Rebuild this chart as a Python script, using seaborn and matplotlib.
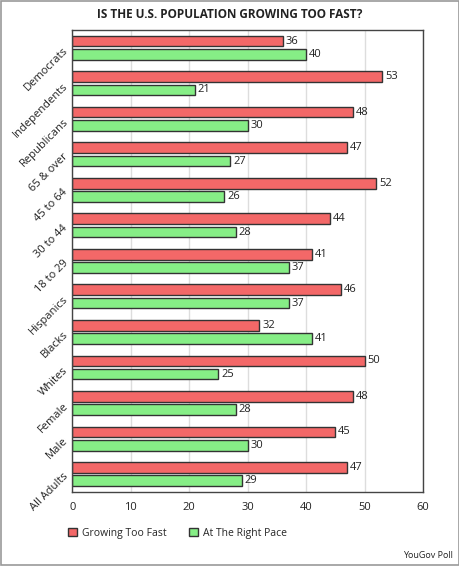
import pandas as pd
import seaborn as sns
import matplotlib.pyplot as plt
from matplotlib.patches import Rectangle

# %% Data
groups = ["Democrats", "Independents", "Republicans", "65 & over", "45 to 64",
          "30 to 44", "18 to 29", "Hispanics", "Blacks", "Whites",
          "Female", "Male", "All Adults"]
too_fast = [36, 53, 48, 47, 52, 44, 41, 46, 32, 50, 48, 45, 47]
right_pace = [40, 21, 30, 27, 26, 28, 37, 37, 41, 25, 28, 30, 29]
series = ["Growing Too Fast", "At The Right Pace"]

df = pd.DataFrame({"group": groups * 2,
                   "answer": [series[0]] * len(groups) + [series[1]] * len(groups),
                   "pct": too_fast + right_pace})

# %% Plot
sns.set_style("white")
plt.rcParams["font.family"] = ["Open Sans", "DejaVu Sans"]

fig = plt.figure(figsize=(4.6, 5.66), dpi=100)
ax = fig.add_axes([0.157, 0.131, 0.763, 0.816])

sns.barplot(data=df, y="group", x="pct", hue="answer", orient="h",
            palette=["#f36868", "#86ee86"], saturation=1, width=0.75, gap=0.2,
            edgecolor="#333333", linewidth=1, ax=ax, legend=True)

for c in ax.containers:
    ax.bar_label(c, padding=2, fontsize=8, color="#222222")

ax.set_xlim(0, 60)
ax.set_xticks(range(0, 61, 10))
ax.grid(axis="x", color="#dddddd", linewidth=1)
ax.set_axisbelow(True)
ax.set_xlabel("")
ax.set_ylabel("")
ax.tick_params(axis="x", labelsize=8, colors="#222222", length=0, pad=7)
ax.tick_params(axis="y", labelsize=8, colors="#222222", length=0, pad=5)
plt.setp(ax.get_yticklabels(), rotation=45, ha="right", rotation_mode="anchor")
for s in ax.spines.values():
    s.set_color("#444444")
    s.set_linewidth(1)

ax.legend(loc="center", bbox_to_anchor=(0.3, -0.09), ncol=2, frameon=False,
          fontsize=7.5, handlelength=0.8, handleheight=0.8, columnspacing=2.2,
          handletextpad=0.5)

fig.text(0.5, 0.974, "IS THE U.S. POPULATION GROWING TOO FAST?", ha="center", va="center",
         fontsize=8.5, fontweight="bold", color="#222222")
fig.text(0.985, 0.01, "YouGov Poll", ha="right", va="bottom", fontsize=6.5, color="#222222")
fig.patches.append(Rectangle((0.002, 0.002), 0.996, 0.996, transform=fig.transFigure,
                             fill=False, edgecolor="#999999", linewidth=1.2))

fig.savefig("out.png", dpi=100)
